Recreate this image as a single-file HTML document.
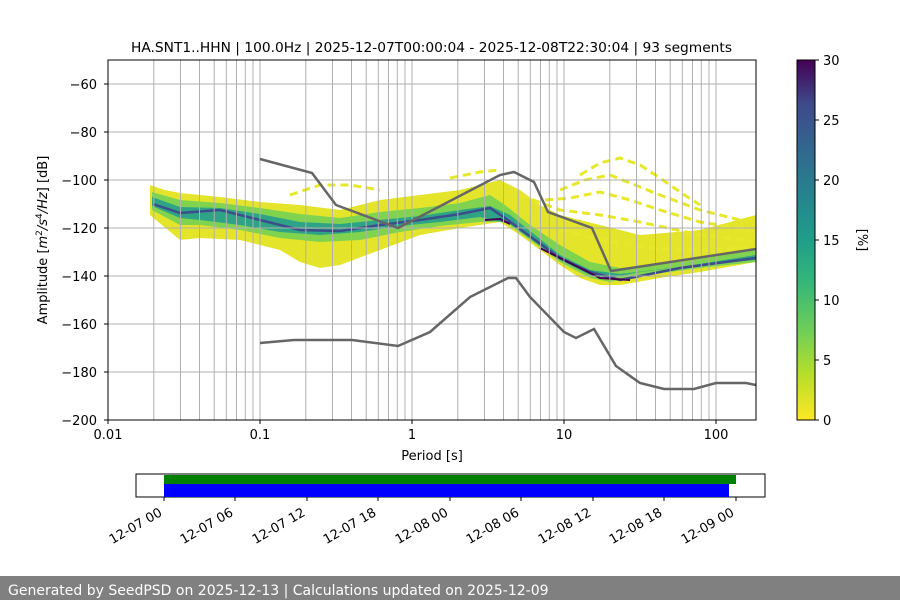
<!DOCTYPE html>
<html><head><meta charset="utf-8"><style>
body{margin:0;background:#fff;width:900px;height:600px;overflow:hidden;font-family:"Liberation Sans","DejaVu Sans",sans-serif}
</style></head><body>
<svg width="900" height="600" xmlns="http://www.w3.org/2000/svg" font-family="DejaVu Sans, Liberation Sans, sans-serif">
<defs>
<linearGradient id="vir" x1="0" y1="1" x2="0" y2="0">
<stop offset="0" stop-color="#fde725"/><stop offset="0.13" stop-color="#b5de2b"/><stop offset="0.25" stop-color="#6ece58"/><stop offset="0.38" stop-color="#35b779"/><stop offset="0.5" stop-color="#1f9e89"/><stop offset="0.63" stop-color="#26828e"/><stop offset="0.75" stop-color="#31688e"/><stop offset="0.88" stop-color="#3e4989"/><stop offset="1" stop-color="#440154"/>
</linearGradient>
<clipPath id="pc"><rect x="108" y="60" width="648" height="360"/></clipPath>
</defs>
<text x="131" y="52" font-size="13" textLength="601" lengthAdjust="spacingAndGlyphs">HA.SNT1..HHN | 100.0Hz | 2025-12-07T00:00:04 - 2025-12-08T22:30:04 | 93 segments</text>
<g clip-path="url(#pc)">
<polygon fill="#e4e52a" points="150,185 165,190 180,193 200,195 220,197 260,202 300,205 340,210 360,205 380,200 420,195 460,190 480,185 500,180 520,190 540,205 560,215 600,225 640,235 700,230 756,215 756,262 700,272 660,278 620,285 600,285 580,278 560,265 540,250 520,235 500,222 480,225 460,228 420,235 380,250 340,265 320,268 300,262 280,250 240,240 200,238 180,240 150,215"/>
<polygon fill="#7fd34e" points="152,192 180,200 220,203 260,208 300,214 340,218 380,212 420,208 460,203 490,195 505,205 530,225 560,245 590,262 620,268 680,262 756,250 756,262 700,268 640,276 610,282 590,278 560,262 530,240 505,222 480,222 440,226 400,232 360,240 320,242 280,238 240,230 200,225 180,225 152,210"/>
<polygon fill="#2fa386" points="152,197 180,207 220,208 260,214 300,222 340,224 380,220 420,216 460,210 490,206 510,215 535,235 560,255 590,270 620,274 680,267 756,255 756,260 700,265 640,272 610,278 590,275 560,260 535,242 510,224 480,217 440,222 400,226 360,232 320,235 280,232 240,225 200,220 180,218 152,206"/>
<polyline fill="none" stroke="#3b4d8a" stroke-width="2.5" points="153,204 180,213 220,210 260,220 300,230 340,231 380,225 420,220 460,214 490,208 505,218 535,240 560,258 590,272 620,280 680,268 756,258"/>
<polyline fill="none" stroke="#440154" stroke-width="2" points="485,220 500,219 510,224" />
<polyline fill="none" stroke="#440154" stroke-width="2" points="540,248 560,258 600,278 630,280"/>
<g fill="none" stroke="#e8e82a" stroke-width="3" stroke-dasharray="8,5">
<polyline points="580,175 600,163 620,158 640,165 660,178 680,192 700,205"/>
<polyline points="560,190 585,180 610,175 635,185 660,195 700,210 740,220"/>
<polyline points="545,200 570,198 600,192 630,200 660,210 700,222 750,230"/>
<polyline points="520,195 560,210 600,215 640,222 700,235 750,240"/>
<polyline points="450,178 480,172 500,170" />
<polyline points="560,230 600,240 650,248 700,250 750,248"/>
<polyline points="290,195 320,185 350,185 380,190"/>
</g>
</g>
<g stroke="#b0b0b0" stroke-width="1">
<g id="dec">
<line x1="153.8" y1="60" x2="153.8" y2="420"/><line x1="180.5" y1="60" x2="180.5" y2="420"/><line x1="199.5" y1="60" x2="199.5" y2="420"/><line x1="214.2" y1="60" x2="214.2" y2="420"/><line x1="226.3" y1="60" x2="226.3" y2="420"/><line x1="236.5" y1="60" x2="236.5" y2="420"/><line x1="245.3" y1="60" x2="245.3" y2="420"/><line x1="253.0" y1="60" x2="253.0" y2="420"/><line x1="260" y1="60" x2="260" y2="420"/>
</g>
<use href="#dec" x="152"/><use href="#dec" x="304"/><use href="#dec" x="456"/>
<line x1="108" y1="60" x2="108" y2="420"/>
<line x1="108" y1="84" x2="756" y2="84"/><line x1="108" y1="132" x2="756" y2="132"/><line x1="108" y1="180" x2="756" y2="180"/><line x1="108" y1="228" x2="756" y2="228"/><line x1="108" y1="276" x2="756" y2="276"/><line x1="108" y1="324" x2="756" y2="324"/><line x1="108" y1="372" x2="756" y2="372"/>
</g>
<g fill="none" stroke="#666" stroke-width="2.5" clip-path="url(#pc)">
<polyline points="260,159 312,173 336,205 398,228 500,175 514,172 534,182 548,212 592,228 611,271 756,249"/>
<polyline points="260,343 294,340 352,340 398,346 430,332 470,297 508,278 516,278 530,297 564,332 576,338 594,329 616,366 640,383 664,389 694,389 716,383 746,383 756,385"/>
</g>
<rect x="108" y="60" width="648" height="360" fill="none" stroke="#000" stroke-width="1"/>
<g font-size="13" text-anchor="end" fill="#000">
<text x="97" y="89">−60</text><text x="97" y="137">−80</text><text x="97" y="185">−100</text><text x="97" y="233">−120</text><text x="97" y="281">−140</text><text x="97" y="329">−160</text><text x="97" y="377">−180</text><text x="97" y="425">−200</text>
</g>
<g stroke="#000"><line x1="104" y1="84" x2="108" y2="84"/><line x1="104" y1="132" x2="108" y2="132"/><line x1="104" y1="180" x2="108" y2="180"/><line x1="104" y1="228" x2="108" y2="228"/><line x1="104" y1="276" x2="108" y2="276"/><line x1="104" y1="324" x2="108" y2="324"/><line x1="104" y1="372" x2="108" y2="372"/><line x1="104" y1="420" x2="108" y2="420"/>
<line x1="108" y1="420" x2="108" y2="424"/><line x1="260" y1="420" x2="260" y2="424"/><line x1="412" y1="420" x2="412" y2="424"/><line x1="564" y1="420" x2="564" y2="424"/><line x1="716" y1="420" x2="716" y2="424"/></g>
<g font-size="13" text-anchor="middle"><text x="108" y="439">0.01</text><text x="260" y="439">0.1</text><text x="412" y="439">1</text><text x="564" y="439">10</text><text x="716" y="439">100</text></g>
<text x="432" y="460" font-size="13" text-anchor="middle">Period [s]</text>
<text transform="translate(47,240) rotate(-90)" font-size="13" text-anchor="middle">Amplitude [<tspan font-style="italic">m</tspan><tspan font-size="9" dy="-5">2</tspan><tspan dy="5" font-style="italic">/s</tspan><tspan font-size="9" dy="-5">4</tspan><tspan dy="5" font-style="italic">/Hz</tspan>] [dB]</text>
<rect x="797" y="60" width="18" height="360" fill="url(#vir)" stroke="#000" stroke-width="1"/>
<g stroke="#000"><line x1="815" y1="60" x2="819" y2="60"/><line x1="815" y1="120" x2="819" y2="120"/><line x1="815" y1="180" x2="819" y2="180"/><line x1="815" y1="240" x2="819" y2="240"/><line x1="815" y1="300" x2="819" y2="300"/><line x1="815" y1="360" x2="819" y2="360"/><line x1="815" y1="420" x2="819" y2="420"/></g>
<g font-size="13"><text x="823" y="65">30</text><text x="823" y="125">25</text><text x="823" y="185">20</text><text x="823" y="245">15</text><text x="823" y="305">10</text><text x="823" y="365">5</text><text x="823" y="425">0</text></g>
<text transform="translate(858,240) rotate(90)" font-size="13" text-anchor="middle">[%]</text>
<rect x="136" y="474" width="629" height="23" fill="#fff" stroke="#000"/>
<rect x="164" y="475" width="572" height="9" fill="#008000"/>
<rect x="164" y="484" width="565" height="13" fill="#0000ff"/>
<g stroke="#000"><line x1="164" y1="497" x2="164" y2="501"/><line x1="235" y1="497" x2="235" y2="501"/><line x1="307" y1="497" x2="307" y2="501"/><line x1="378" y1="497" x2="378" y2="501"/><line x1="450" y1="497" x2="450" y2="501"/><line x1="521" y1="497" x2="521" y2="501"/><line x1="593" y1="497" x2="593" y2="501"/><line x1="664" y1="497" x2="664" y2="501"/><line x1="736" y1="497" x2="736" y2="501"/></g>
<g font-size="13" text-anchor="end">
<text transform="translate(163,515) rotate(-30)">12-07 00</text>
<text transform="translate(234,515) rotate(-30)">12-07 06</text>
<text transform="translate(306,515) rotate(-30)">12-07 12</text>
<text transform="translate(377,515) rotate(-30)">12-07 18</text>
<text transform="translate(449,515) rotate(-30)">12-08 00</text>
<text transform="translate(520,515) rotate(-30)">12-08 06</text>
<text transform="translate(592,515) rotate(-30)">12-08 12</text>
<text transform="translate(663,515) rotate(-30)">12-08 18</text>
<text transform="translate(735,515) rotate(-30)">12-09 00</text>
</g>
<rect x="0" y="576" width="900" height="24" fill="#808080"/>
<text x="8" y="595" font-size="14" fill="#fff">Generated by SeedPSD on 2025-12-13 | Calculations updated on 2025-12-09</text>
</svg>
</body></html>
